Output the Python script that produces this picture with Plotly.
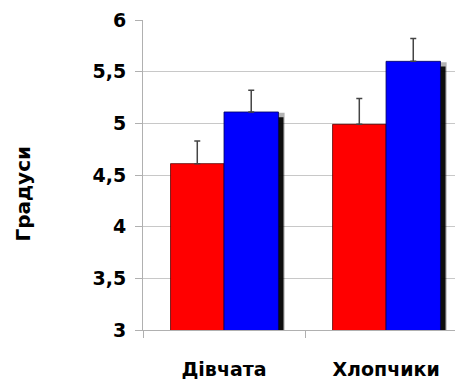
import plotly.graph_objects as go

categories = ["Дівчата", "Хлопчики"]
red_values = [4.61, 4.99]
red_errors = [0.22, 0.25]
blue_values = [5.11, 5.60]
blue_errors = [0.21, 0.22]
y_ticks = [3, 3.5, 4, 4.5, 5, 5.5, 6]
y_title = "Градуси"

FONT = "'DejaVu Sans', Arial, sans-serif"
BASE = 2.9  # bars start below the axis so the bottom is clipped
fig = go.Figure()

# soft drop shadows (drawn first, behind the bars)
for vals, off, w in [(red_values, -0.33, 0.33), (blue_values, 0.0, 0.336)]:
    for extra, op in [(0.014, 0.3), (0.0, 0.92)]:
        fig.add_trace(go.Bar(
            x=categories, y=[v - 0.05 + extra * 3 - BASE for v in vals], base=BASE,
            offset=off + 0.031 - extra / 2, width=w + extra,
            marker=dict(color=f"rgba(0,0,0,{op})", line=dict(width=0)),
            hoverinfo="skip", showlegend=False,
        ))

fig.add_trace(go.Bar(
    x=categories, y=[v - BASE for v in red_values], base=BASE, offset=-0.33, width=0.33,
    marker=dict(color="#ff0000", line=dict(color="#5a0000", width=0.8)),
    error_y=dict(type="data", array=red_errors, symmetric=False, arrayminus=[0, 0],
                 color="#444444", thickness=1.5, width=3),
    showlegend=False,
))
fig.add_trace(go.Bar(
    x=categories, y=[v - BASE for v in blue_values], base=BASE, offset=0.0, width=0.336,
    marker=dict(color="#0000ff", line=dict(color="#00005a", width=0.8)),
    error_y=dict(type="data", array=blue_errors, symmetric=False, arrayminus=[0, 0],
                 color="#444444", thickness=1.5, width=3),
    showlegend=False,
))

fig.update_layout(
    width=455, height=372,
    margin=dict(l=135, r=0, t=12, b=47),
    paper_bgcolor="white", plot_bgcolor="white",
    barmode="overlay",
    separators=",.",
    font=dict(family=FONT, color="black"),
    xaxis=dict(
        type="category", range=[-0.5, 1.475],
        showline=True, linecolor="#b0b0b0", linewidth=1,
        ticks="outside", tickson="boundaries", ticklen=7, tickcolor="#b0b0b0",
        showgrid=False,
        tickfont=dict(size=19, family=FONT, weight="bold"),
        ticklabelstandoff=22,
    ),
    yaxis=dict(
        range=[3, 6], tickvals=y_ticks,
        showline=True, linecolor="#b0b0b0", linewidth=1,
        ticks="outside", ticklen=7, tickcolor="#b0b0b0",
        showgrid=True, gridcolor="#c8c8c8", gridwidth=1,
        tickfont=dict(size=19, family=FONT, weight="bold"),
        ticklabelstandoff=5, zeroline=False,
    ),
    annotations=[dict(
        text=y_title, textangle=-90, xref="paper", yref="paper",
        x=-0.375, y=0.44, xanchor="center", yanchor="middle", showarrow=False,
        font=dict(size=20, family=FONT, weight="bold"),
    )],
)

fig.write_html("out.html")
